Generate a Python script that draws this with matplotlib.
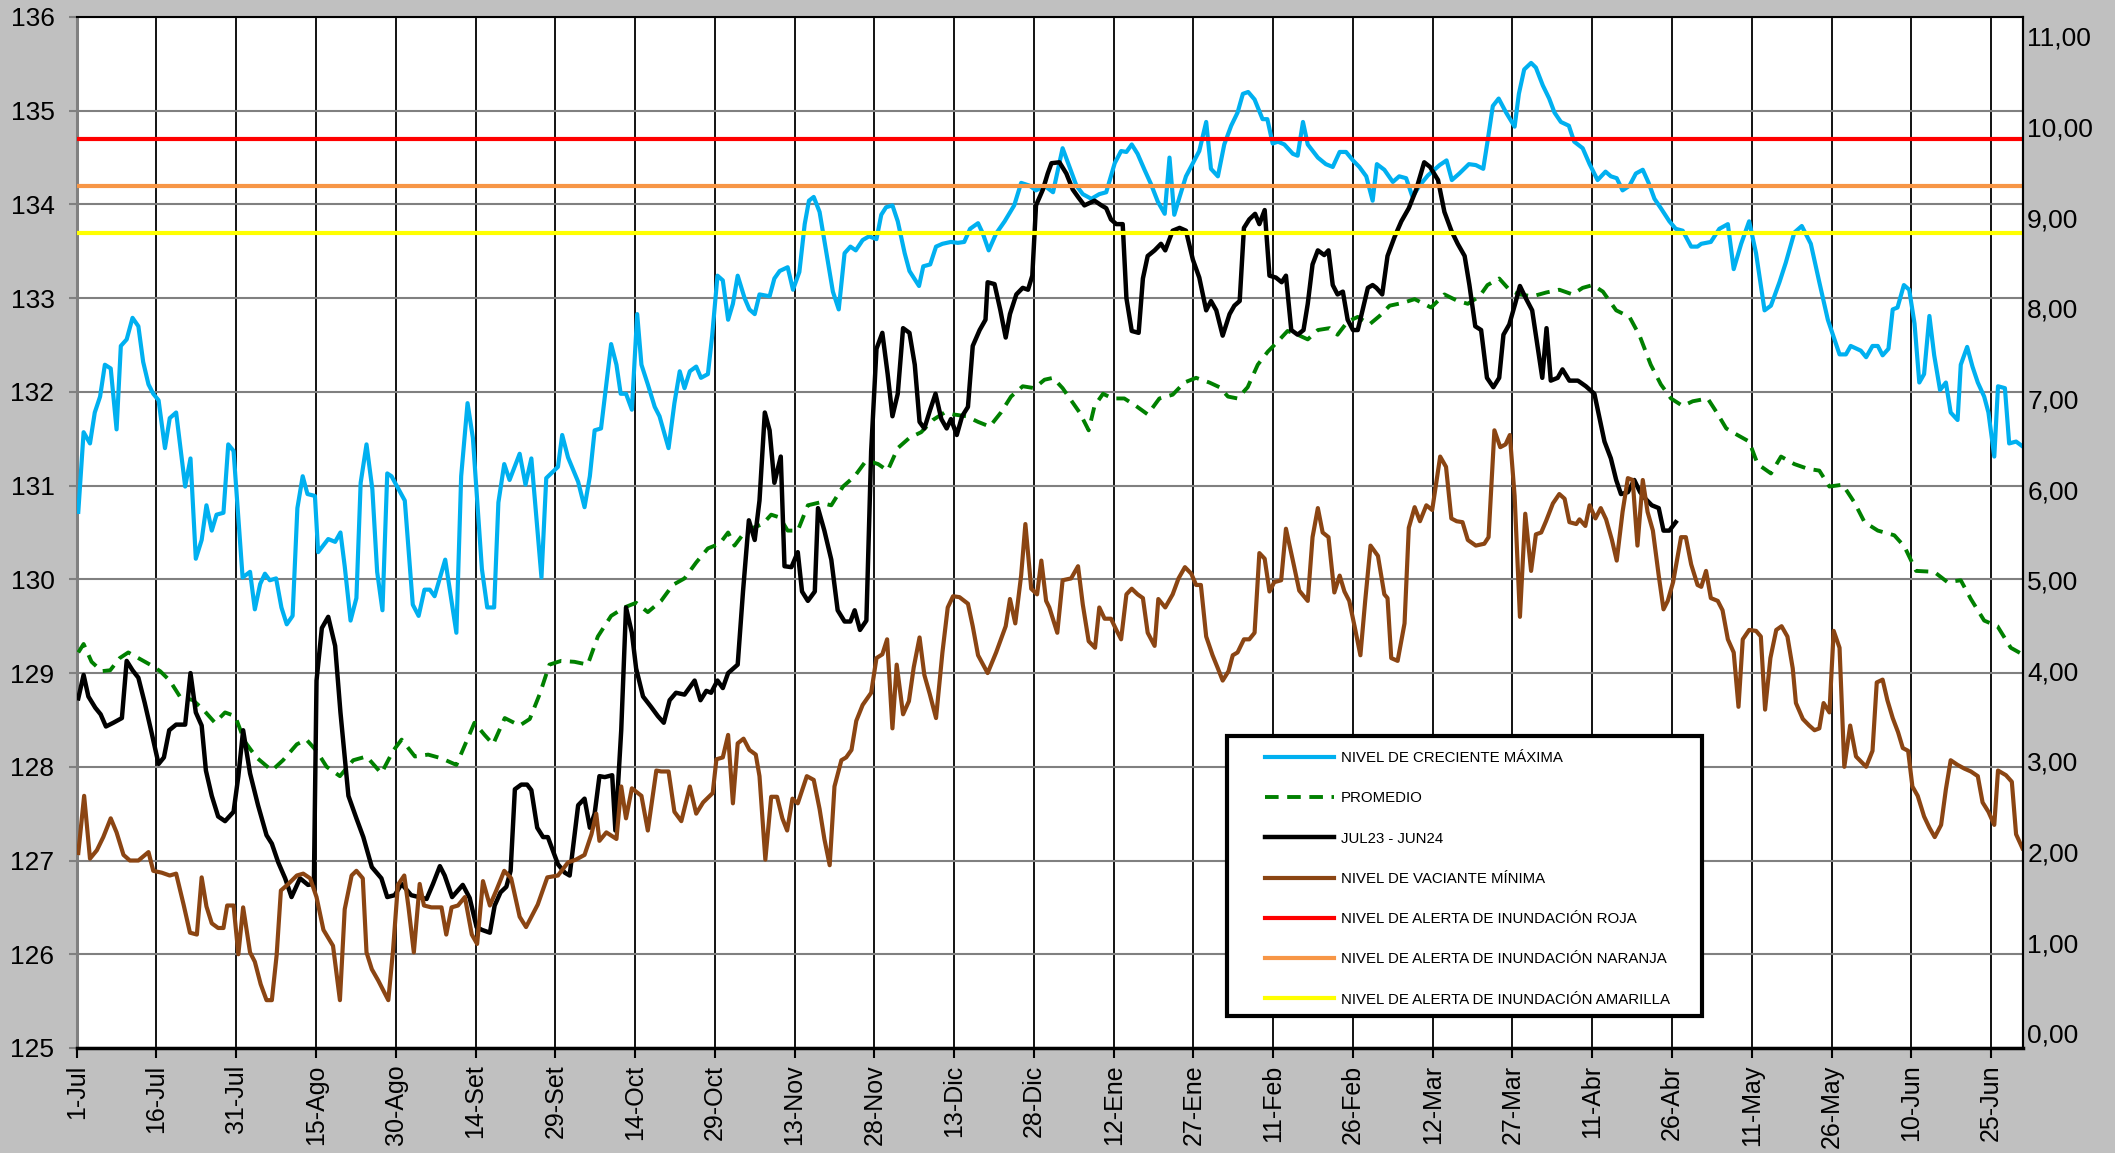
import matplotlib
matplotlib.use("Agg")
import matplotlib.pyplot as plt
from matplotlib.patches import Rectangle

plt.rcParams['font.family'] = ['Liberation Sans', 'DejaVu Sans']

# x = days counted from 1-Jul (leap year: 366 days)
tick_days = list(range(0, 361, 15))
tick_labels = ['1-Jul', '16-Jul', '31-Jul', '15-Ago', '30-Ago', '14-Set', '29-Set',
               '14-Oct', '29-Oct', '13-Nov', '28-Nov', '13-Dic', '28-Dic', '12-Ene',
               '27-Ene', '11-Feb', '26-Feb', '12-Mar', '27-Mar', '11-Abr', '26-Abr',
               '11-May', '26-May', '10-Jun', '25-Jun']

# NIVEL DE CRECIENTE MAXIMA
max_days = [0.3, 1.3, 2.5, 3.4, 4.4, 5.3, 6.4, 7.5, 8.3, 9.4, 10.5, 11.6, 12.5, 13.5, 14.4, 15.4,
            16.6, 17.5, 18.7, 20.4, 21.4, 22.4, 23.5, 24.4, 25.4, 26.3, 27.6, 28.5, 29.5, 31.2,
            32.6, 33.5, 34.5, 35.4, 36.3, 37.5, 38.5, 39.5, 40.6, 41.5, 42.5, 43.4, 44.8, 45.4,
            47.3, 48.6, 49.6, 50.4, 51.5, 52.6, 53.4, 54.5, 55.6, 56.5, 57.5, 58.4, 59.2, 61.7,
            63.2, 64.3, 65.4, 66.4, 67.3, 69.3, 71.4, 72.3, 73.5, 74.5, 76.2, 77.2, 78.5, 79.3,
            80.4, 81.4, 83.3, 84.4, 85.5, 87.4, 88.3, 90.5, 91.3, 92.4, 94.3, 95.5, 96.5, 97.4,
            98.6, 100.5, 101.5, 102.3, 103.3, 104.4, 105.4, 106.2, 107.4, 108.7, 109.6, 111.3,
            112.4, 113.4, 114.3, 115.3, 116.5, 117.4, 118.7, 119.5, 120.5, 121.5, 122.5, 123.4,
            124.3, 125.6, 126.5, 127.5, 128.4, 130.3, 131.2, 132.2, 133.7, 134.7, 135.9, 136.9,
            137.7, 138.6, 139.7, 141.0, 142.2, 143.3, 144.4, 145.5, 146.5, 147.8, 149.0, 150.4,
            151.3, 152.2, 153.4, 154.4, 155.7, 156.6, 158.4, 159.2, 160.5, 161.6, 162.8, 164.4,
            165.7, 166.9, 168.0, 169.5, 170.4, 171.5, 172.9, 174.5, 176.3, 177.6, 179.2, 180.4,
            182.0, 183.6, 185.4, 186.7, 188.0, 189.2, 190.8, 192.3, 193.6, 195.2, 196.4, 197.4,
            198.4, 199.5, 200.8, 202.0, 203.3, 204.6, 205.5, 206.4, 207.4, 208.6, 209.9, 211.1,
            212.4, 213.3, 214.6, 215.8, 217.1, 218.3, 219.3, 220.3, 221.5, 223.0, 223.9, 224.9,
            225.9, 227.1, 228.7, 229.6, 230.6, 231.5, 233.4, 234.9, 236.2, 237.5, 238.7, 240.0,
            241.2, 242.5, 243.7, 244.5, 245.9, 247.5, 248.7, 250.0, 251.2, 252.5, 254.1, 256.3,
            257.6, 258.6, 260.0, 261.8, 263.1, 264.5, 265.3, 266.3, 267.4, 268.8, 270.4, 271.2,
            272.2, 273.5, 274.4, 275.7, 276.9, 277.9, 279.1, 280.6, 281.6, 283.2, 284.5, 286.0,
            287.5, 288.5, 289.6, 290.7, 292.0, 293.2, 294.5, 295.6, 296.7, 297.9, 299.5, 300.7,
            302.0, 303.6, 304.8, 305.5, 307.3, 308.9, 310.5, 311.6, 313.0, 314.5, 315.8, 317.4,
            318.6, 320.2, 321.4, 323.0, 324.4, 326.1, 327.7, 329.3, 331.5, 332.7, 333.6, 335.5,
            336.5, 337.7, 338.7, 339.6, 340.7, 341.5, 342.4, 343.6, 344.6, 345.6, 346.5, 347.4,
            348.4, 349.3, 350.4, 351.5, 352.4, 353.7, 354.3, 355.5, 356.5, 357.5, 358.7, 359.5,
            360.6, 361.3, 362.6, 363.4, 364.7, 365.9]
max_vals = [130.72, 131.57, 131.45, 131.78, 131.95, 132.29, 132.25, 131.60, 132.49, 132.56, 132.79,
            132.70, 132.32, 132.08, 131.98, 131.91, 131.40, 131.72, 131.78, 130.99, 131.29, 130.22,
            130.42, 130.79, 130.52, 130.69, 130.71, 131.44, 131.37, 130.02, 130.08, 129.68, 129.95,
            130.06, 129.99, 130.01, 129.70, 129.52, 129.61, 130.76, 131.10, 130.91, 130.89, 130.29,
            130.43, 130.40, 130.50, 130.14, 129.56, 129.80, 131.03, 131.44, 130.96, 130.08, 129.67,
            131.13, 131.10, 130.84, 129.73, 129.61, 129.89, 129.89, 129.82, 130.21, 129.43, 131.10,
            131.88, 131.51, 130.11, 129.70, 129.70, 130.82, 131.23, 131.06, 131.34, 131.01, 131.29,
            130.02, 131.08, 131.20, 131.54, 131.30, 131.04, 130.77, 131.10, 131.59, 131.61, 132.51,
            132.29, 131.98, 131.98, 131.81, 132.83, 132.29, 132.08, 131.84, 131.74, 131.40, 131.88,
            132.22, 132.04, 132.22, 132.27, 132.15, 132.19, 132.60, 133.24, 133.19, 132.77, 132.94,
            133.24, 133.00, 132.88, 132.83, 133.04, 133.02, 133.21, 133.29, 133.33, 133.09, 133.28,
            133.79, 134.04, 134.08, 133.92, 133.48, 133.07, 132.88, 133.48, 133.55, 133.51, 133.62,
            133.66, 133.63, 133.89, 133.97, 133.99, 133.82, 133.48, 133.29, 133.13, 133.34, 133.36,
            133.55, 133.58, 133.60, 133.59, 133.60, 133.74, 133.80, 133.69, 133.51, 133.69, 133.82,
            133.99, 134.23, 134.20, 134.15, 134.20, 134.13, 134.60, 134.40, 134.20, 134.11, 134.06,
            134.11, 134.13, 134.44, 134.57, 134.56, 134.64, 134.54, 134.37, 134.22, 134.03, 133.90,
            134.50, 133.89, 134.08, 134.30, 134.44, 134.57, 134.88, 134.38, 134.30, 134.64, 134.84,
            134.98, 135.18, 135.20, 135.12, 134.91, 134.91, 134.65, 134.67, 134.64, 134.54, 134.52,
            134.88, 134.64, 134.50, 134.43, 134.40, 134.56, 134.56, 134.47, 134.40, 134.30, 134.04,
            134.43, 134.37, 134.24, 134.30, 134.28, 134.08, 134.20, 134.31, 134.42, 134.47, 134.26,
            134.33, 134.43, 134.42, 134.38, 134.67, 135.05, 135.13, 134.98, 134.83, 135.18, 135.44,
            135.51, 135.46, 135.27, 135.13, 134.98, 134.88, 134.84, 134.67, 134.60, 134.43, 134.26,
            134.35, 134.30, 134.28, 134.15, 134.20, 134.33, 134.37, 134.23, 134.06, 133.96, 133.82,
            133.74, 133.72, 133.55, 133.55, 133.58, 133.60, 133.74, 133.79, 133.31, 133.58, 133.82,
            133.48, 132.87, 132.92, 133.17, 133.38, 133.70, 133.77, 133.58, 133.17, 132.77, 132.40,
            132.40, 132.49, 132.44, 132.37, 132.49, 132.49, 132.39, 132.46, 132.88, 132.90, 133.14,
            133.09, 132.73, 132.10, 132.19, 132.81, 132.39, 132.02, 132.10, 131.78, 131.70, 132.29,
            132.48, 132.27, 132.10, 131.95, 131.78, 131.31, 132.06, 132.04, 131.45, 131.47, 131.42]

# PROMEDIO
avg_days = [0.3, 1.3, 2.8, 4.7, 6.3, 8.1, 9.7, 11.6, 13.8, 15.7, 17.5, 19.4, 21.9, 23.8, 26.0, 27.9,
            29.8, 31.6, 33.8, 36.7, 38.8, 41.4, 43.2, 45.1, 47.0, 49.5, 52.0, 54.5, 57.3, 59.5,
            61.1, 63.6, 66.1, 68.6, 71.4, 73.3, 74.8, 76.7, 78.3, 80.5, 83.3, 85.2, 87.1, 88.9,
            91.1, 93.6, 96.1, 98.0, 100.5, 103.0, 105.2, 107.4, 109.9, 112.1, 114.3, 116.5, 118.7,
            120.9, 122.5, 123.7, 125.3, 127.2, 129.0, 130.6, 132.2, 133.7, 135.6, 137.5, 139.7,
            141.9, 144.1, 146.3, 148.5, 150.7, 152.5, 154.4, 156.6, 158.8, 161.0, 163.2, 164.8,
            167.3, 169.5, 171.7, 173.8, 175.7, 177.9, 180.1, 182.0, 183.6, 185.4, 187.0, 188.6,
            190.3, 191.4, 193.0, 194.8, 197.0, 199.2, 201.4, 203.6, 206.1, 208.3, 210.5, 213.0,
            214.9, 216.5, 218.3, 220.2, 222.1, 224.0, 225.9, 227.7, 229.6, 231.5, 233.4, 235.6,
            237.1, 239.0, 240.9, 243.1, 245.0, 246.9, 249.4, 251.6, 254.7, 257.2, 259.7, 261.6,
            263.8, 265.3, 267.5, 269.4, 271.3, 273.8, 276.3, 278.8, 281.3, 283.2, 285.1, 287.0,
            289.5, 292.0, 293.9, 296.0, 297.9, 299.8, 302.0, 303.9, 306.7, 308.3, 310.2, 312.3,
            314.5, 316.1, 318.6, 320.5, 323.0, 325.5, 327.7, 329.6, 332.1, 334.3, 336.2, 338.7,
            341.8, 343.7, 345.9, 349.3, 351.8, 354.3, 356.2, 358.7, 361.2, 363.7, 365.9]
avg_vals = [129.22, 129.31, 129.12, 129.02, 129.03, 129.16, 129.22, 129.16, 129.09, 129.02, 128.92,
            128.75, 128.71, 128.61, 128.47, 128.58, 128.54, 128.27, 128.10, 127.96, 128.07, 128.24,
            128.29, 128.17, 128.00, 127.90, 128.07, 128.11, 127.93, 128.17, 128.29, 128.11, 128.13,
            128.09, 128.02, 128.27, 128.47, 128.34, 128.24, 128.52, 128.44, 128.51, 128.78, 129.09,
            129.13, 129.12, 129.09, 129.39, 129.61, 129.70, 129.75, 129.65, 129.77, 129.94, 130.01,
            130.18, 130.33, 130.38, 130.50, 130.36, 130.48, 130.55, 130.59, 130.69, 130.66, 130.52,
            130.52, 130.79, 130.82, 130.79, 130.99, 131.10, 131.27, 131.23, 131.16, 131.40, 131.51,
            131.57, 131.70, 131.78, 131.76, 131.74, 131.68, 131.63, 131.78, 131.95, 132.06, 132.04,
            132.13, 132.15, 132.04, 131.91, 131.78, 131.59, 131.85, 131.98, 131.93, 131.93, 131.85,
            131.76, 131.93, 131.97, 132.10, 132.15, 132.10, 132.05, 131.95, 131.93, 132.05, 132.29,
            132.43, 132.54, 132.65, 132.61, 132.56, 132.66, 132.68, 132.61, 132.75, 132.80, 132.72,
            132.81, 132.92, 132.95, 132.99, 132.90, 133.04, 132.97, 132.94, 133.02, 133.14, 133.21,
            133.09, 133.04, 133.02, 133.06, 133.09, 133.04, 133.11, 133.14, 133.07, 132.87, 132.80,
            132.60, 132.29, 132.08, 131.93, 131.85, 131.90, 131.93, 131.79, 131.61, 131.54, 131.47,
            131.23, 131.13, 131.31, 131.23, 131.18, 131.16, 130.99, 131.01, 130.82, 130.61, 130.52,
            130.47, 130.35, 130.09, 130.08, 129.97, 129.99, 129.79, 129.56, 129.50, 129.27, 129.20]

# JUL23 - JUN24
cur_days = [0.3, 1.3, 2.2, 3.5, 4.5, 5.5, 6.9, 8.5, 9.4, 10.5, 11.6, 12.8, 14.1, 15.4, 16.4, 17.4,
            18.7, 20.4, 21.4, 22.4, 23.5, 24.3, 25.4, 26.6, 27.9, 29.5, 30.4, 31.3, 32.6, 34.1,
            35.7, 36.7, 37.9, 39.2, 40.4, 42.0, 43.5, 44.6, 45.1, 46.1, 47.3, 48.6, 49.6, 51.1,
            52.6, 53.9, 55.5, 57.3, 58.4, 59.8, 61.1, 62.9, 65.8, 67.0, 68.3, 69.2, 70.6, 72.6,
            73.9, 75.2, 76.2, 77.7, 78.6, 79.7, 80.8, 81.6, 82.4, 83.6, 84.7, 85.5, 86.6, 87.7,
            88.6, 90.5, 91.8, 92.7, 94.3, 95.5, 96.5, 97.4, 98.3, 99.3, 100.7, 101.3, 102.4, 103.3,
            104.4, 105.2, 106.5, 108.0, 109.3, 110.4, 111.5, 112.7, 114.3, 116.2, 117.3, 118.4,
            119.3, 120.5, 121.5, 122.5, 124.3, 125.3, 126.4, 127.5, 128.4, 129.4, 130.3, 131.2,
            132.4, 133.1, 134.4, 135.6, 136.4, 137.5, 138.8, 139.4, 140.6, 141.9, 143.1, 144.4,
            145.5, 146.3, 147.3, 148.5, 149.4, 150.4, 151.5, 152.5, 153.4, 154.4, 155.4, 156.6,
            157.6, 158.5, 159.4, 160.5, 161.5, 162.6, 163.6, 164.4, 165.5, 166.5, 167.6, 168.5,
            169.8, 170.9, 171.3, 172.6, 173.7, 174.7, 175.5, 176.7, 177.9, 178.9, 179.7, 180.4,
            181.7, 182.6, 183.3, 184.8, 186.1, 187.3, 188.3, 189.5, 191.4, 192.7, 193.6, 194.5,
            195.5, 196.7, 197.4, 198.4, 199.7, 200.5, 201.4, 202.7, 203.9, 204.7, 206.1, 207.4,
            208.6, 209.9, 211.1, 212.4, 213.3, 214.3, 215.5, 216.8, 217.7, 218.7, 219.5, 220.5,
            221.6, 222.4, 223.4, 224.3, 225.5, 226.6, 227.4, 228.4, 229.6, 230.7, 231.5, 232.4,
            233.4, 234.6, 235.4, 236.2, 237.1, 238.1, 239.0, 240.0, 240.9, 241.8, 242.8, 243.7,
            244.4, 245.5, 246.5, 247.8, 249.1, 250.5, 251.9, 253.4, 254.5, 256.0, 257.2, 258.5,
            259.7, 261.0, 261.9, 263.0, 264.1, 265.2, 266.4, 267.5, 268.3, 269.4, 270.5, 271.4,
            272.5, 273.7, 274.7, 275.6, 276.4, 277.2, 278.5, 279.4, 280.7, 282.3, 283.8, 285.4,
            286.3, 287.3, 288.5, 289.5, 290.4, 291.7, 292.9, 294.0, 295.0, 296.2, 297.5, 298.4,
            299.5, 300.7]
cur_vals = [128.73, 128.98, 128.75, 128.63, 128.56, 128.43, 128.47, 128.52, 129.13, 129.03, 128.95,
            128.68, 128.36, 128.03, 128.10, 128.39, 128.45, 128.45, 129.00, 128.58, 128.44, 127.96,
            127.69, 127.47, 127.42, 127.52, 127.90, 128.39, 127.93, 127.59, 127.27, 127.18, 126.98,
            126.81, 126.61, 126.81, 126.74, 126.75, 128.92, 129.48, 129.60, 129.29, 128.58, 127.69,
            127.45, 127.25, 126.93, 126.81, 126.61, 126.63, 126.75, 126.63, 126.59, 126.75, 126.94,
            126.84, 126.61, 126.74, 126.60, 126.29, 126.26, 126.23, 126.52, 126.66, 126.72, 126.89,
            127.76, 127.81, 127.81, 127.75, 127.35, 127.25, 127.25, 126.96, 126.87, 126.84, 127.59,
            127.66, 127.35, 127.50, 127.90, 127.89, 127.91, 127.32, 128.39, 129.70, 129.43, 129.05,
            128.75, 128.64, 128.54, 128.47, 128.71, 128.79, 128.77, 128.92, 128.71, 128.81, 128.79,
            128.92, 128.84, 129.00, 129.09, 129.87, 130.63, 130.42, 130.84, 131.78, 131.59, 131.03,
            131.31, 130.14, 130.13, 130.29, 129.87, 129.77, 129.87, 130.76, 130.52, 130.21, 129.67,
            129.55, 129.55, 129.67, 129.46, 129.56, 131.37, 132.46, 132.63, 132.19, 131.74, 131.98,
            132.68, 132.63, 132.29, 131.68, 131.61, 131.81, 131.98, 131.71, 131.61, 131.71, 131.54,
            131.74, 131.84, 132.49, 132.66, 132.77, 133.17, 133.15, 132.87, 132.58, 132.83, 133.04,
            133.11, 133.09, 133.24, 133.99, 134.16, 134.33, 134.44, 134.45, 134.33, 134.16, 134.08,
            133.99, 134.04, 133.99, 133.96, 133.84, 133.79, 133.79, 133.00, 132.65, 132.63, 133.21,
            133.45, 133.51, 133.58, 133.51, 133.72, 133.75, 133.72, 133.41, 133.22, 132.87, 132.97,
            132.87, 132.60, 132.83, 132.92, 132.97, 133.75, 133.84, 133.90, 133.79, 133.94, 133.24,
            133.22, 133.17, 133.24, 132.66, 132.61, 132.66, 132.94, 133.36, 133.51, 133.46, 133.51,
            133.14, 133.04, 133.07, 132.77, 132.66, 132.66, 132.87, 133.11, 133.14, 133.11, 133.04,
            133.45, 133.65, 133.82, 133.96, 134.16, 134.45, 134.40, 134.26, 133.92, 133.72, 133.58,
            133.45, 133.14, 132.70, 132.66, 132.15, 132.05, 132.15, 132.61, 132.72, 132.94, 133.13,
            133.00, 132.87, 132.49, 132.15, 132.68, 132.12, 132.15, 132.24, 132.12, 132.12, 132.06,
            131.98, 131.74, 131.47, 131.29, 131.06, 130.91, 130.93, 131.06, 130.93, 130.86, 130.79,
            130.76, 130.52, 130.52, 130.61]

# NIVEL DE VACIANTE MINIMA
min_days = [0.3, 1.4, 2.5, 3.8, 5.0, 6.4, 7.5, 8.8, 10.0, 11.6, 13.5, 14.4, 16.0, 17.5, 18.7, 20.1,
            21.3, 22.6, 23.5, 24.4, 25.4, 26.6, 27.6, 28.3, 29.5, 30.4, 31.3, 32.6, 33.5, 34.6,
            35.7, 36.7, 37.6, 38.4, 39.8, 41.4, 42.6, 43.9, 45.1, 46.4, 48.2, 49.5, 50.4, 51.7,
            52.6, 53.8, 54.5, 55.5, 56.7, 58.6, 59.5, 60.4, 61.6, 62.4, 63.4, 64.5, 65.3, 66.7,
            68.6, 69.5, 70.5, 71.7, 73.0, 74.3, 75.3, 76.4, 77.7, 78.9, 80.4, 81.7, 83.3, 84.5,
            86.7, 88.5, 90.5, 92.4, 93.9, 95.5, 96.8, 97.7, 98.3, 99.6, 101.5, 102.4, 103.3, 104.4,
            106.2, 107.4, 109.0, 109.9, 111.3, 112.4, 113.7, 115.3, 116.5, 117.8, 119.6, 120.3,
            121.5, 122.5, 123.4, 124.3, 125.4, 126.5, 127.7, 128.4, 129.5, 130.6, 131.7, 132.7,
            133.6, 134.6, 135.6, 137.3, 138.6, 139.7, 140.6, 141.6, 142.5, 143.8, 144.7, 145.7,
            146.6, 147.8, 149.4, 150.4, 151.5, 152.4, 153.4, 154.2, 155.4, 156.5, 157.4, 158.5,
            159.4, 160.4, 161.6, 162.8, 163.8, 164.8, 166.0, 167.6, 168.5, 169.5, 171.3, 172.9,
            174.7, 175.5, 176.5, 177.6, 178.4, 179.5, 180.6, 181.4, 182.3, 182.9, 184.4, 185.4,
            187.0, 188.3, 189.2, 190.3, 191.5, 192.3, 193.3, 194.5, 195.5, 196.4, 197.4, 198.4,
            199.5, 200.5, 201.4, 202.7, 203.4, 204.7, 206.1, 207.2, 208.4, 209.6, 210.5, 211.4,
            212.4, 213.6, 214.6, 215.5, 216.6, 217.4, 218.3, 219.5, 220.5, 221.5, 222.4, 223.4,
            224.3, 225.2, 226.5, 227.4, 228.7, 229.9, 231.5, 232.4, 233.4, 234.3, 235.4, 236.5,
            237.5, 238.4, 239.3, 240.3, 241.4, 242.3, 243.3, 244.7, 245.9, 246.5, 247.2, 248.4,
            249.7, 250.5, 251.6, 252.6, 253.8, 254.9, 256.4, 257.5, 258.5, 259.5, 260.6, 261.6,
            263.1, 264.7, 265.5, 266.6, 267.7, 268.7, 269.5, 270.4, 271.4, 272.4, 273.5, 274.4,
            275.4, 276.3, 277.6, 278.8, 279.8, 280.7, 282.0, 282.6, 283.7, 284.5, 285.6, 286.6,
            287.6, 288.7, 289.6, 290.7, 291.7, 292.6, 293.5, 294.5, 295.4, 296.4, 297.5, 298.4,
            299.2, 300.2, 301.7, 302.6, 303.6, 304.8, 305.5, 306.4, 307.3, 308.6, 309.5, 310.5,
            311.6, 312.5, 313.3, 314.5, 315.8, 316.7, 317.5, 318.5, 319.6, 320.6, 321.7, 322.7,
            323.3, 324.6, 325.8, 326.8, 327.7, 328.5, 329.6, 330.4, 331.5, 332.4, 333.5, 334.6,
            336.5, 337.7, 338.5, 339.6, 340.5, 341.5, 342.5, 343.4, 344.4, 345.2, 346.2, 347.4,
            348.4, 349.4, 350.6, 351.5, 352.4, 353.7, 355.0, 356.2, 357.5, 358.4, 359.5, 360.6,
            361.3, 362.8, 363.9, 364.7, 365.9]
min_vals = [127.08, 127.69, 127.02, 127.11, 127.25, 127.45, 127.30, 127.06, 127.00, 127.00, 127.09,
            126.89, 126.87, 126.84, 126.86, 126.53, 126.23, 126.21, 126.82, 126.51, 126.33, 126.28,
            126.28, 126.52, 126.52, 126.00, 126.50, 126.02, 125.92, 125.68, 125.51, 125.51, 125.99,
            126.68, 126.75, 126.84, 126.86, 126.81, 126.61, 126.26, 126.09, 125.51, 126.48, 126.84,
            126.89, 126.81, 126.02, 125.84, 125.72, 125.51, 126.05, 126.74, 126.84, 126.50, 126.02,
            126.75, 126.52, 126.50, 126.50, 126.21, 126.50, 126.52, 126.61, 126.21, 126.11, 126.78,
            126.52, 126.68, 126.89, 126.81, 126.40, 126.29, 126.53, 126.82, 126.84, 126.98, 127.01,
            127.06, 127.28, 127.50, 127.21, 127.30, 127.23, 127.79, 127.45, 127.77, 127.69, 127.32,
            127.96, 127.95, 127.95, 127.52, 127.42, 127.79, 127.50, 127.62, 127.72, 128.08, 128.10,
            128.34, 127.61, 128.25, 128.30, 128.18, 128.13, 127.90, 127.01, 127.68, 127.68, 127.45,
            127.32, 127.66, 127.61, 127.90, 127.86, 127.55, 127.23, 126.95, 127.79, 128.07, 128.10,
            128.18, 128.49, 128.66, 128.79, 129.16, 129.20, 129.36, 128.41, 129.09, 128.56, 128.70,
            129.06, 129.38, 128.98, 128.78, 128.52, 129.22, 129.70, 129.82, 129.81, 129.74, 129.50,
            129.19, 129.00, 129.22, 129.50, 129.79, 129.53, 130.04, 130.59, 129.90, 129.84, 130.20,
            129.77, 129.70, 129.43, 129.99, 130.01, 130.14, 129.73, 129.34, 129.27, 129.70, 129.58,
            129.58, 129.46, 129.36, 129.84, 129.90, 129.84, 129.80, 129.43, 129.29, 129.79, 129.70,
            129.84, 130.01, 130.13, 130.06, 129.94, 129.94, 129.39, 129.19, 129.05, 128.92, 129.02,
            129.19, 129.22, 129.36, 129.36, 129.43, 130.28, 130.22, 129.87, 129.97, 129.99, 130.54,
            130.20, 129.88, 129.77, 130.45, 130.76, 130.50, 130.45, 129.86, 130.04, 129.87, 129.77,
            129.50, 129.19, 129.77, 130.36, 130.25, 129.84, 129.80, 129.16, 129.13, 129.53, 130.55,
            130.77, 130.62, 130.79, 130.74, 131.31, 131.20, 130.65, 130.62, 130.61, 130.42, 130.36,
            130.38, 130.45, 131.59, 131.41, 131.44, 131.54, 130.89, 129.60, 130.70, 130.09, 130.48,
            130.50, 130.62, 130.81, 130.91, 130.86, 130.61, 130.59, 130.64, 130.57, 130.79, 130.65,
            130.76, 130.64, 130.42, 130.20, 130.72, 131.08, 131.06, 130.36, 131.06, 130.72, 130.52,
            130.04, 129.68, 129.77, 129.97, 130.45, 130.45, 130.16, 129.94, 129.92, 130.09, 129.80,
            129.77, 129.67, 129.36, 129.22, 128.64, 129.36, 129.46, 129.45, 129.39, 128.61, 129.16,
            129.46, 129.50, 129.39, 129.05, 128.68, 128.51, 128.44, 128.39, 128.41, 128.68, 128.58,
            129.45, 129.27, 128.00, 128.44, 128.11, 128.00, 128.17, 128.90, 128.93, 128.71, 128.52,
            128.37, 128.20, 128.17, 127.79, 127.69, 127.47, 127.35, 127.25, 127.38, 127.76, 128.07,
            128.02, 127.98, 127.95, 127.90, 127.62, 127.52, 127.38, 127.96, 127.91, 127.84, 127.28,
            127.13]

# alert levels
alert_roja = 134.7
alert_naranja = 134.2
alert_amarilla = 133.7

right_ticks = list(range(0, 12))

fig = plt.figure(figsize=(21.15, 11.53), dpi=100, facecolor='#c0c0c0')
ax = fig.add_axes([0.03626, 0.0911, 0.92024, 0.89416])
ax.set_facecolor('white')

ax.plot(max_days, max_vals, color='#00b0f0', lw=3, label='NIVEL DE CRECIENTE MÁXIMA', zorder=3)
ax.plot(avg_days, avg_vals, color='#008000', lw=2.8, dashes=(3.5, 2.2), label='PROMEDIO', zorder=3)
ax.plot(cur_days, cur_vals, color='black', lw=3.2, label='JUL23 - JUN24', zorder=3)
ax.plot(min_days, min_vals, color='#8b4513', lw=3, label='NIVEL DE VACIANTE MÍNIMA', zorder=3)
ax.axhline(alert_roja, color='#ff0000', lw=3, label='NIVEL DE ALERTA DE INUNDACIÓN ROJA', zorder=3)
ax.axhline(alert_naranja, color='#f79646', lw=3, label='NIVEL DE ALERTA DE INUNDACIÓN NARANJA', zorder=3)
ax.axhline(alert_amarilla, color='#ffff00', lw=3, label='NIVEL DE ALERTA DE INUNDACIÓN AMARILLA', zorder=3)

ax.set_xlim(0, 366)
ax.set_ylim(125, 136)
ax.set_xticks(tick_days)
ax.set_xticklabels(tick_labels, rotation=90, fontsize=18)
ax.set_yticks(range(125, 137))
ax.tick_params(axis='y', labelsize=19, length=6, width=1.5, color='#808080', pad=10)
ax.tick_params(axis='x', length=7, width=1.5, color='black', pad=5)

ax.grid(axis='y', color='#808080', lw=1.5, zorder=1)
ax.grid(axis='x', color='black', lw=1.3, zorder=1)
ax.set_axisbelow(True)

ax.spines['left'].set_color('#808080')
ax.spines['left'].set_linewidth(2.2)
ax.spines['bottom'].set_linewidth(2.5)
ax.spines['top'].set_linewidth(1.5)
ax.spines['right'].set_linewidth(1.5)

ax2 = ax.twinx()
ax2.set_ylim(-0.162, 11.214)
ax2.set_yticks(right_ticks)
ax2.set_yticklabels([f"{v:.2f}".replace('.', ',') for v in right_ticks])
ax2.tick_params(axis='y', labelsize=19, length=0, pad=3)
for s in ['left', 'top', 'bottom']:
    ax2.spines[s].set_visible(False)
ax2.spines['right'].set_linewidth(1.5)

# legend box
ax.add_patch(Rectangle((0.591, 0.031), 0.244, 0.2716, transform=ax.transAxes,
                       facecolor='white', edgecolor='black', lw=3, zorder=4))
leg = ax.legend(loc='upper left', bbox_to_anchor=(0.6105, 0.288), frameon=False,
                fontsize=10.8, handlelength=4.6, handletextpad=0.45, labelspacing=1.75,
                borderpad=0, borderaxespad=0)
leg.set_zorder(5)

fig.savefig('out.png', dpi=100, facecolor=fig.get_facecolor())
